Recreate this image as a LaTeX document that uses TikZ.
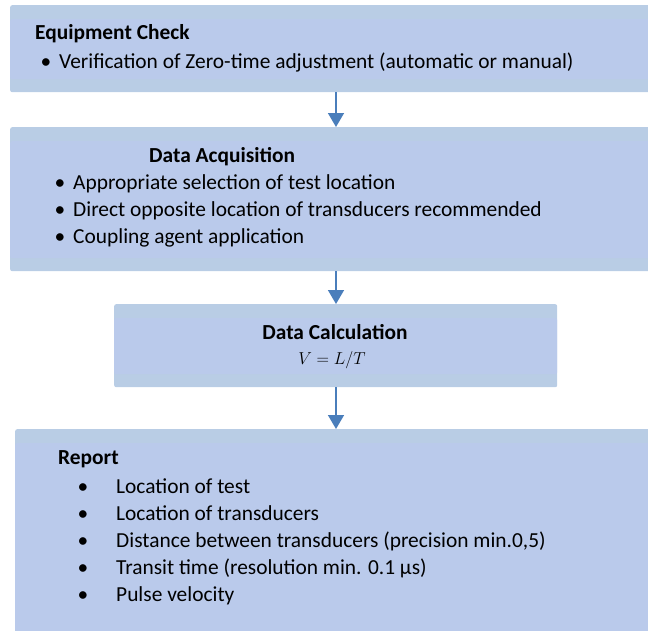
\documentclass[tikz,border=0pt]{standalone}
\usepackage{fontspec}
\setmainfont{Carlito}
\usetikzlibrary{arrows.meta}
\definecolor{bandc}{HTML}{B9CDE5}
\definecolor{innerc}{HTML}{BACAEB}
\definecolor{arrc}{HTML}{4A7EBB}
\tikzset{
  box/.style={draw=none, fill=bandc, rounded corners=2pt, inner sep=0pt, anchor=north west,
    path picture={\fill[innerc] ([yshift=-14pt]path picture bounding box.north west) rectangle ([yshift=13pt]path picture bounding box.south east);}},
  txt/.style={anchor=base west, inner sep=0pt, font=\fontsize{21.4}{25}\selectfont},
  bul/.style={txt, anchor=base},
  ttl/.style={txt, font=\fontsize{21.4}{25}\selectfont\bfseries},
  mth/.style={anchor=base, inner sep=0pt, font=\fontsize{18.5}{22}\selectfont},
  arr/.style={draw=arrc, line width=1.5pt, -{Triangle[width=16pt,length=14pt]}}
}
\begin{document}
\begin{tikzpicture}[x=1pt,y=-1pt]
\useasboundingbox (0,0) rectangle (648,630);
\node[box, minimum width=650pt, minimum height=87pt] (b1) at (10,5) {};
\node[box, minimum width=650pt, minimum height=144pt] (b2) at (10,127) {};
\node[box, minimum width=443pt, minimum height=83pt] (b3) at (114,304) {};
\node[box, minimum width=645pt, minimum height=215pt] (b4) at (15,429) {};
% box 1
\node[ttl] (t1) at (35,39) {Equipment Check};
\node[bul] (b1a) at (46,68) {•};
\node[txt] (l1a) at (59,68) {Verification of Zero-time adjustment (automatic or manual)};
% box 2
\node[ttl] (t2) at (149,162) {Data Acquisition};
\node[bul] (b2a) at (60,189) {•};
\node[txt] (l2a) at (73,189) {Appropriate selection of test location};
\node[bul] (b2b) at (60,216) {•};
\node[txt] (l2b) at (73,216) {Direct opposite location of transducers recommended};
\node[bul] (b2c) at (60,243) {•};
\node[txt] (l2c) at (73,243) {Coupling agent application};
% box 3
\node[ttl, anchor=base] (t3) at (335,339) {Data Calculation};
\node[mth] (f3) at (332,364) {$V = L/T$};
% box 4
\node[ttl] (t4) at (58,464) {Report};
\node[bul] (b4a) at (83,493) {•};
\node[txt] (l4a) at (116,493) {Location of test};
\node[bul] (b4b) at (83,520) {•};
\node[txt] (l4b) at (116,520) {Location of transducers};
\node[bul] (b4c) at (83,547) {•};
\node[txt] (l4c) at (116,547) {Distance between transducers (precision min.0,5)};
\node[bul] (b4d) at (83,574) {•};
\node[txt] (l4d) at (116,574) {Transit time (resolution min. 0.1 µs)};
\node[bul] (b4e) at (83,601) {•};
\node[txt] (l4e) at (116,601) {Pulse velocity};
% arrows
\coordinate (a1) at (336,92);
\coordinate (a2) at (336,271);
\coordinate (a3) at (336,387);
\draw[arr] (a1) -- (a1 |- b2.north);
\draw[arr] (a2) -- (a2 |- b3.north);
\draw[arr] (a3) -- (a3 |- b4.north);
\end{tikzpicture}
\end{document}
